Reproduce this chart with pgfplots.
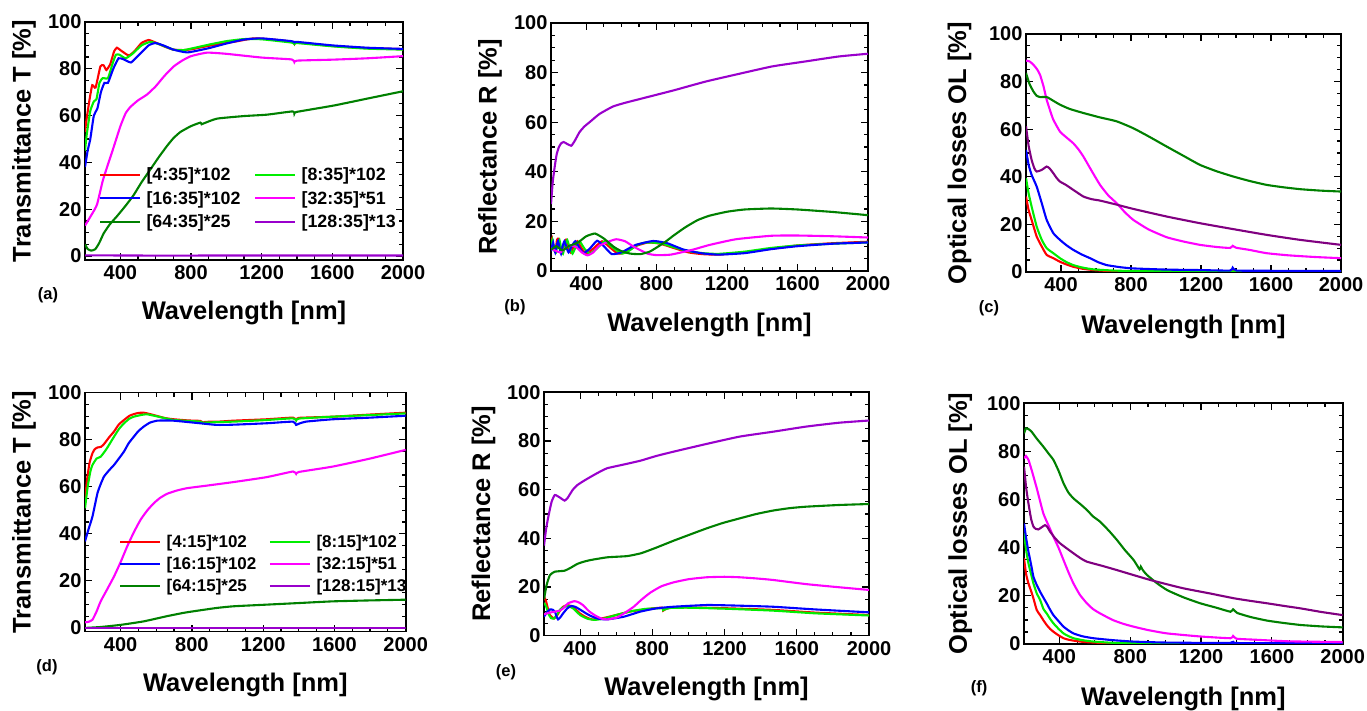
\documentclass[border=0pt]{standalone}
\usepackage{fontspec}
\setmainfont{Liberation Sans}
\usepackage{pgfplots}
\pgfplotsset{compat=1.18}
\usepackage{xcolor}

\definecolor{cRed}{HTML}{FF0000}
\definecolor{cLGreen}{HTML}{00EE00}
\definecolor{cBlue}{HTML}{0000FF}
\definecolor{cMag}{HTML}{FF00FF}
\definecolor{cDGreen}{HTML}{008000}
\definecolor{cViolet}{HTML}{9900CC}
\definecolor{cPurple}{HTML}{800080}

\pgfplotsset{
  panel/.style={
    scale only axis,
    xmin=200, xmax=2000, ymax=100,
    xtick={400,800,1200,1600,2000},
    ytick={0,20,40,60,80,100},
    minor x tick num=3, minor y tick num=3,
    tick align=inside,
    major tick length=7pt, minor tick length=4pt,
    every tick/.append style={black, line width=1.2pt},
    axis line style={line width=1.6pt},
    scaled ticks=false,
    /pgf/number format/1000 sep={},
    /pgf/number format/assume math mode=true,
    ticklabel style={font=\fontsize{20}{22}\selectfont\bfseries},
    xticklabel style={yshift=-2pt},
    label style={font=\fontsize{25.5}{28}\selectfont\bfseries},
    xlabel={Wavelength [nm]},
    every axis plot/.append style={line width=2.1pt, no marks, smooth, tension=0.3},
    legend image code/.code={\draw[##1] (0pt,0pt) -- (40pt,0pt);},
  },
  leg/.style={
    legend columns=2,
    legend cell align=left,
    legend style={draw=none, fill=none, inner sep=0pt, outer sep=0pt,
      nodes={inner sep=0.5pt},
      /tikz/every odd column/.append style={column sep=5pt},
      /tikz/every even column/.append style={column sep=#1}},
  },
}

\begin{document}
\begin{tikzpicture}
\useasboundingbox (0,0) rectangle (1367pt,711pt);

% (a) transmittance, 35 nm
\begin{axis}[panel, at={(85pt,451pt)}, anchor=south west,
  width=318pt, height=238pt, ymin=-1.7,
  ylabel={Transmittance T [\%]},
  ylabel style={at={(axis description cs:-0.192,0.5)}, anchor=center},
  xlabel style={at={(axis description cs:0.5,-0.223)}, anchor=center},
  leg=13pt, legend style={at={(axis cs:279,37.9)}, anchor=north west, row sep=8pt,
    font=\fontsize{17.8}{19}\selectfont\bfseries}]
\addplot[cRed] coordinates {(200,53) (208,58) (226,67) (241,73) (260,72) (287,81) (305,81.5) (321,79.5) (343,82) (365,87.5) (381,89) (400,88) (447,85.7) (480,87.5) (520,91) (560,92.3) (600,91.2) (650,89.5) (700,88.2) (758,88) (800,88.3) (900,89.8) (1041,91.5) (1155,93) (1250,92.6) (1370,91.6) (1385,90.6) (1400,91.2) (1608,89.7) (1800,88.8) (2000,88.4)};
\addlegendentry{\relax[4:35]*102}
\addplot[cLGreen] coordinates {(200,45) (210,52) (230,62) (250,66) (265,67) (282,74) (300,76) (330,76) (355,82) (375,86) (395,86) (430,84.5) (470,86.5) (520,90) (570,91.5) (620,90.5) (700,88.2) (760,88) (900,90.3) (1000,91.8) (1100,92.7) (1200,92.6) (1370,91.2) (1385,90.6) (1400,91) (1600,89.6) (1800,88.6) (2000,88.2)};
\addlegendentry{\relax[8:35]*102}
\addplot[cBlue] coordinates {(200,38) (215,45) (230,50) (250,60) (270,63) (290,70) (310,74) (330,74) (360,80) (390,84.5) (420,84) (460,82.7) (500,85.5) (560,90) (600,91) (650,89.8) (700,88.2) (780,87) (900,88.8) (1000,90.8) (1100,92.5) (1200,93) (1370,91.8) (1385,91.3) (1400,91.5) (1600,90) (1800,89) (2000,88.5)};
\addlegendentry{\relax[16:35]*102}
\addplot[cMag] coordinates {(200,13) (240,18) (268,22) (300,32) (325,38) (360,46) (400,55.4) (430,61) (457,63.7) (500,66.5) (551,69) (600,72.5) (650,77) (702,81) (750,83.5) (800,85.4) (890,86.9) (1000,86.4) (1200,84.8) (1370,84) (1385,82.9) (1400,83.5) (1600,83.9) (1800,84.5) (2000,85.4)};
\addlegendentry{\relax[32:35]*51}
\addplot[cDGreen] coordinates {(200,5) (215,3) (235,2.3) (258,2.9) (280,5.5) (306,9.7) (340,13.5) (381,17) (430,21.5) (475,26) (520,31.5) (570,37) (620,42.5) (664,47) (700,50.3) (740,53) (800,55.5) (853,57) (860,56.3) (870,56.6) (947,58.7) (1100,59.8) (1230,60.4) (1375,61.8) (1385,60.9) (1400,61.6) (1608,64.3) (1800,67.3) (2000,70.4)};
\addlegendentry{\relax[64:35]*25}
\addplot[cViolet] coordinates {(200,0.3) (500,0.2) (1000,0.2) (1500,0.2) (2000,0.2)};
\addlegendentry{\relax[128:35]*13}
\end{axis}

% (b) reflectance, 35 nm
\begin{axis}[panel, at={(551pt,440pt)}, anchor=south west,
  width=317pt, height=248pt, ymin=0,
  ylabel={Reflectance R [\%]},
  ylabel style={at={(axis description cs:-0.192,0.5)}, anchor=center},
  xlabel style={at={(axis description cs:0.5,-0.218)}, anchor=center}]
\addplot[cRed] coordinates {(200,11) (206,13) (215,9) (225,8) (234,12.5) (242,13) (252,9) (262,7.5) (274,11) (285,12.5) (298,10) (312,7.5) (330,10) (350,12) (375,9) (400,7) (440,9) (490,12) (535,9.5) (580,7) (620,7.5) (680,10) (750,11.5) (820,11) (900,9.2) (980,7.5) (1060,6.8) (1150,6.6) (1300,7.5) (1450,9) (1600,10.3) (1800,11.2) (2000,11.8)};
\addplot[cLGreen] coordinates {(200,10) (208,12.5) (218,8.5) (228,7.5) (238,11) (248,12.5) (258,9) (268,7) (280,10.5) (292,12.5) (306,9.5) (322,7) (342,10) (362,12) (390,9) (420,7) (460,9) (505,12) (550,9.5) (600,7) (640,8) (690,10.5) (740,11.5) (820,11.2) (900,9.5) (980,8) (1060,7.2) (1150,6.9) (1300,7.8) (1450,9.3) (1600,10.3) (1800,11) (2000,11.5)};
\addplot[cBlue] coordinates {(200,8) (206,10) (212,11.5) (218,9) (224,7.5) (232,10) (240,12) (248,9.5) (257,7) (266,10) (276,12) (288,9.5) (300,7.5) (318,10) (338,12) (360,9.5) (385,7.2) (420,9) (462,12.2) (500,10) (545,6.8) (600,7.5) (680,10.5) (780,12.1) (860,11.2) (950,8.7) (1050,7.2) (1150,6.6) (1300,7.2) (1450,8.8) (1600,10) (1800,11) (2000,11.5)};
\addplot[cMag] coordinates {(200,9) (225,8.2) (253,7.5) (283,9.2) (313,10.4) (345,9.5) (375,7.5) (407,6.3) (440,7.5) (470,10) (521,11.7) (570,12.8) (620,12) (672,9.7) (748,7) (800,6.4) (880,6.6) (1000,8.5) (1100,10.5) (1250,12.8) (1450,14.2) (1600,14.3) (1800,14) (2000,13.5)};
\addplot[cDGreen] coordinates {(200,8.5) (230,10) (265,8.3) (300,10) (330,10.8) (358,11.7) (400,14) (450,15.1) (500,13.1) (557,9.7) (600,8) (651,7) (708,6.8) (760,7.8) (805,9.7) (850,11.8) (898,14.4) (960,17.5) (1032,20.5) (1100,22.3) (1200,23.9) (1300,24.8) (1450,25.2) (1600,24.8) (1800,23.8) (2000,22.5)};
\addplot[cViolet] coordinates {(200,27) (210,36) (221,42) (232,47) (245,50) (258,51.5) (272,52) (290,51.3) (315,50.5) (335,52.5) (362,56) (390,58.3) (419,60) (475,63.3) (551,66.3) (620,67.8) (702,69.3) (796,71) (900,72.9) (1079,76.4) (1268,79.5) (1457,82.5) (1645,84.5) (1834,86.5) (2000,87.6)};
\end{axis}

% (c) optical losses, 35 nm
\begin{axis}[panel, at={(1026pt,439pt)}, anchor=south west,
  width=315pt, height=238pt, ymin=0,
  ylabel={Optical losses OL [\%]},
  ylabel style={at={(axis description cs:-0.211,0.5)}, anchor=center},
  xlabel style={at={(axis description cs:0.5,-0.231)}, anchor=center}]
\addplot[cRed] coordinates {(200,31.7) (215,26) (232,21.9) (261,14.9) (290,10.7) (318,7.2) (356,5.8) (394,4.3) (430,3.2) (470,2.2) (520,1.4) (585,0.8) (700,0.3) (813,0.15) (1000,0.1) (1380,0.1) (1390,0.5) (1400,0.1) (2000,0.05)};
\addplot[cLGreen] coordinates {(200,39.4) (215,33) (232,27.5) (261,19.1) (290,13.5) (318,10) (356,7.9) (394,5.8) (430,4.2) (470,2.9) (520,1.9) (585,1.1) (700,0.6) (813,0.4) (1000,0.3) (2000,0.2)};
\addplot[cBlue] coordinates {(200,51.3) (215,45) (232,40.8) (261,35.9) (290,28.9) (318,21.9) (356,16.3) (394,13.5) (430,11.3) (470,9.3) (520,7.3) (566,5.8) (610,4.2) (661,2.9) (740,2) (813,1.5) (1004,1.0) (1200,0.8) (1366,0.6) (1381,1.8) (1404,0.6) (1600,0.5) (2000,0.4)};
\addplot[cMag] coordinates {(200,88.8) (220,88.5) (242,87.1) (262,85.3) (280,82.9) (300,78) (318,72.4) (337,68) (356,64) (394,59) (430,56.6) (470,54.1) (500,51.5) (528,48.5) (575,42.5) (623,36.6) (670,32.2) (718,28.9) (765,25.1) (813,21.9) (900,17.9) (1004,14.6) (1100,12.8) (1194,11.4) (1290,10.5) (1366,10.1) (1381,11) (1400,10.2) (1475,9.3) (1575,7.9) (1700,7) (1850,6.3) (2000,5.8)};
\addplot[cDGreen] coordinates {(200,83.6) (220,79) (242,75.9) (260,74.1) (280,73.5) (318,73.5) (350,72.2) (394,70.3) (450,68.5) (528,66.8) (620,65) (718,63.3) (813,60.4) (900,57) (1004,52.7) (1100,48.8) (1194,45) (1290,42.3) (1385,40.1) (1480,38.2) (1575,36.6) (1670,35.6) (1766,34.8) (1880,34.2) (2000,33.8)};
\addplot[cPurple] coordinates {(200,61.2) (215,53) (232,47.1) (248,43.5) (261,42.2) (290,42.9) (318,44.3) (335,43.5) (356,41.5) (375,39.5) (394,38) (430,36.5) (470,34.5) (528,31.7) (575,30.6) (623,30) (718,28.3) (813,26.5) (1004,23.3) (1194,20.5) (1385,18) (1575,15.6) (1766,13.5) (2000,11.4)};
\end{axis}

% (d) transmittance, 15 nm
\begin{axis}[panel, at={(85pt,79.3pt)}, anchor=south west,
  width=320.7pt, height=239pt, ymin=-1.6,
  ylabel={Transmittance T [\%]},
  ylabel style={at={(axis description cs:-0.190,0.5)}, anchor=center},
  xlabel style={at={(axis description cs:0.5,-0.222)}, anchor=center},
  leg=12pt, legend style={at={(axis cs:391,39.8)}, anchor=north west, row sep=7.5pt,
    font=\fontsize{17}{18}\selectfont\bfseries}]
\addplot[cRed] coordinates {(200,53) (210,62) (225,70) (242,74.3) (255,76) (270,76.7) (290,77) (307,78.2) (335,81) (363,83.5) (390,86.5) (419,88.4) (450,90.2) (474,90.9) (500,91.4) (530,91.5) (570,90.8) (605,90.1) (650,89.2) (698,88.7) (780,88.2) (847,88) (862,87.3) (874,87.6) (950,87.7) (1033,88.1) (1219,88.7) (1367,89.4) (1385,88.4) (1400,89.3) (1591,89.8) (1800,90.7) (2000,91.5)};
\addlegendentry{\relax[4:15]*102}
\addplot[cLGreen] coordinates {(200,50.9) (215,60) (230,66.5) (242,69.3) (265,72) (288,72.8) (320,76) (363,81.3) (390,84.5) (419,87) (450,89) (474,89.8) (520,90.6) (549,90.8) (600,90) (698,88.4) (847,87.7) (862,87) (874,87.3) (1033,87.7) (1200,88.3) (1367,89.1) (1385,88.2) (1400,89) (1591,89.8) (1800,90.5) (2000,91.2)};
\addlegendentry{\relax[8:15]*102}
\addplot[cBlue] coordinates {(200,36.8) (220,42) (242,47.4) (270,57.3) (290,61.5) (307,64.4) (335,67) (363,69.3) (390,72) (419,75) (445,78.5) (474,81.3) (500,83.7) (530,85.6) (565,87.3) (605,88.1) (650,88.2) (698,88.1) (780,87.5) (847,87) (940,86.3) (1033,86.4) (1219,87) (1367,87.7) (1385,86.3) (1400,86.8) (1440,87.7) (1591,88.7) (1800,89.4) (2000,90.2)};
\addlegendentry{\relax[16:15]*102}
\addplot[cMag] coordinates {(200,2.4) (220,2.6) (242,3.5) (265,7) (288,11.3) (325,16.5) (363,21.9) (400,28) (437,34.7) (475,40.8) (512,46) (550,50) (586,53) (620,55.2) (660,57) (715,58.4) (772,59.4) (884,60.5) (1033,62) (1219,64.1) (1367,66.5) (1385,65.5) (1400,66.3) (1591,68.6) (1800,72) (2000,75.7)};
\addlegendentry{\relax[32:15]*51}
\addplot[cDGreen] coordinates {(200,0) (288,0.4) (400,1.3) (530,2.8) (660,5) (760,6.5) (847,7.5) (940,8.5) (1033,9.2) (1219,9.9) (1405,10.6) (1591,11.3) (1800,11.7) (2000,12)};
\addlegendentry{\relax[64:15]*25}
\addplot[cViolet] coordinates {(200,0.1) (500,0.1) (1000,0.1) (1500,0.1) (2000,0.1)};
\addlegendentry{\relax[128:15]*13}
\end{axis}

% (e) reflectance, 15 nm
\begin{axis}[panel, at={(544pt,75.3pt)}, anchor=south west,
  width=325pt, height=243.4pt, ymin=0,
  ylabel={Reflectance R [\%]},
  ylabel style={at={(axis description cs:-0.186,0.5)}, anchor=center},
  xlabel style={at={(axis description cs:0.5,-0.218)}, anchor=center}]
\addplot[cRed] coordinates {(200,16) (210,14.5) (222,11) (232,8.5) (242,7.8) (255,7.1) (270,8) (290,10.5) (306,11.9) (330,12.6) (360,11.8) (398,9.2) (430,7.7) (466,6.7) (520,7.1) (600,8.5) (680,10) (734,10.5) (800,11.2) (855,11.5) (860,10.3) (870,10.8) (900,11.6) (1000,11.6) (1200,11.3) (1468,10.6) (1700,9.5) (2000,8.5)};
\addplot[cLGreen] coordinates {(200,13.5) (212,12) (225,9) (238,7.3) (255,7) (270,8.5) (290,10.8) (310,11.8) (335,12.2) (365,11) (400,8.5) (440,7) (480,6.5) (530,7) (600,8.5) (680,10) (760,11) (855,11.3) (860,10.5) (870,10.8) (900,11.4) (1000,11.5) (1200,11.1) (1468,10.3) (1700,9.2) (2000,8.3)};
\addplot[cBlue] coordinates {(200,7.8) (215,9.5) (233,10.8) (250,10.6) (260,9.9) (270,7.8) (278,6.7) (290,7.5) (306,9.2) (330,11.3) (352,12.2) (375,11.8) (398,10.8) (430,9.3) (459,8.1) (500,7) (550,6.7) (642,7.8) (734,9.9) (820,11.2) (917,11.9) (1101,12.6) (1250,12.4) (1468,11.9) (1700,10.8) (2000,9.6)};
\addplot[cMag] coordinates {(200,8.8) (233,9.5) (287,10.3) (310,11.5) (333,13.3) (369,14.2) (392,13.7) (415,12.6) (450,10) (488,8.1) (520,7) (550,6.7) (605,7.5) (650,9.5) (697,11.9) (740,14.8) (789,17.7) (850,20.3) (917,21.9) (1000,23.2) (1101,24) (1200,24.2) (1284,24) (1380,23.5) (1468,22.9) (1651,21.2) (1834,19.9) (2000,18.8)};
\addplot[cDGreen] coordinates {(200,15) (215,21) (233,24.9) (260,26.3) (314,26.7) (345,27.8) (385,29.5) (420,30.4) (459,31.1) (550,32.2) (660,32.7) (734,33.8) (780,35) (826,36.3) (917,39) (1010,41.6) (1101,44.1) (1190,46.3) (1284,48.2) (1376,50) (1468,51.4) (1560,52.4) (1651,53) (1834,53.7) (2000,54.1)};
\addplot[cViolet] coordinates {(200,37) (212,44) (224,48.9) (242,55) (260,57.8) (287,56.8) (314,55.5) (330,56.5) (341,57.8) (360,60) (385,61.9) (420,63.6) (459,65.3) (500,67) (550,68.8) (640,70.3) (734,71.9) (820,73.8) (917,75.6) (1101,78.8) (1284,81.8) (1468,83.8) (1651,85.9) (1834,87.5) (2000,88.4)};
\end{axis}

% (f) optical losses, 15 nm
\begin{axis}[panel, at={(1024pt,67pt)}, anchor=south west,
  width=318.7pt, height=240.7pt, ymin=0,
  ylabel={Optical losses OL [\%]},
  ylabel style={at={(axis description cs:-0.200,0.5)}, anchor=center},
  xlabel style={at={(axis description cs:0.5,-0.228)}, anchor=center}]
\addplot[cRed] coordinates {(200,35.6) (212,29) (225,25.2) (240,22) (253,19) (272,14.1) (291,12) (310,9.8) (328,7.9) (347,6.3) (366,5.1) (395,3.6) (423,2.4) (450,1.8) (479,1.4) (530,0.9) (592,0.6) (700,0.3) (1000,0.1) (1366,0.1) (1381,0.7) (1400,0.1) (2000,0.1)};
\addplot[cLGreen] coordinates {(200,46) (212,39) (225,33.5) (240,29) (253,25.2) (272,21) (291,18.3) (310,14.5) (328,12.7) (347,10.5) (366,8.6) (395,6.3) (423,4.4) (450,3.3) (479,2.4) (530,1.6) (592,1.0) (700,0.5) (819,0.4) (1000,0.3) (2000,0.2)};
\addplot[cBlue] coordinates {(200,50.1) (212,44) (225,38.4) (240,33) (253,28) (272,24.5) (291,21.7) (310,19.2) (328,16.9) (347,14.3) (366,12) (395,9.5) (423,7.2) (450,5.7) (479,4.4) (530,3.2) (592,2.4) (700,1.6) (819,1) (1000,0.6) (1366,0.4) (1381,0.9) (1400,0.4) (2000,0.3)};
\addplot[cMag] coordinates {(200,77.1) (211,78.1) (225,76.5) (243,72.3) (272,64.7) (309,54.3) (340,49) (366,44.6) (395,40) (423,34.9) (450,30) (479,25.2) (515,20.5) (555,16.9) (590,14.5) (630,12.7) (700,10) (760,8.4) (819,7.2) (900,5.8) (1008,4.4) (1200,3.1) (1366,2.4) (1381,3.3) (1400,2.2) (1500,1.8) (1700,1.1) (2000,0.8)};
\addplot[cDGreen] coordinates {(200,87.5) (211,89.6) (225,89.3) (243,88.2) (270,85.5) (309,82) (340,79) (366,76.5) (395,72) (423,66.8) (450,63) (479,60.5) (520,58) (555,55.7) (590,53) (630,50.8) (680,47) (725,43.2) (770,39) (819,34.9) (853,31) (860,32.1) (870,30.8) (894,28.7) (950,25.3) (1008,22.4) (1100,19.4) (1196,16.9) (1290,15) (1366,13.4) (1381,14.4) (1404,12.9) (1480,11.2) (1574,9.7) (1670,8.7) (1762,7.9) (1880,7.3) (2000,6.9)};
\addplot[cPurple] coordinates {(200,73.7) (212,65) (225,58.4) (240,52) (253,48.8) (267,47.8) (281,47.6) (300,48.5) (319,49.4) (333,48.5) (347,46.7) (375,44) (404,41.8) (440,39.8) (479,37.7) (520,35.6) (555,34.2) (640,32.5) (725,30.7) (820,28.6) (913,26.6) (1008,24.8) (1102,23.1) (1250,21) (1385,19) (1480,17.9) (1574,16.9) (1670,15.8) (1762,14.8) (1880,13.3) (2000,12)};
\end{axis}

% panel letters
\begin{scope}[every node/.style={font=\fontsize{16.5}{18}\selectfont\bfseries}]
\node at (48pt,416pt) {(a)};
\node at (515pt,404pt) {(b)};
\node at (989pt,403pt) {(c)};
\node at (47pt,44pt) {(d)};
\node at (506pt,39pt) {(e)};
\node at (979pt,23pt) {(f)};
\end{scope}
\end{tikzpicture}
\end{document}
